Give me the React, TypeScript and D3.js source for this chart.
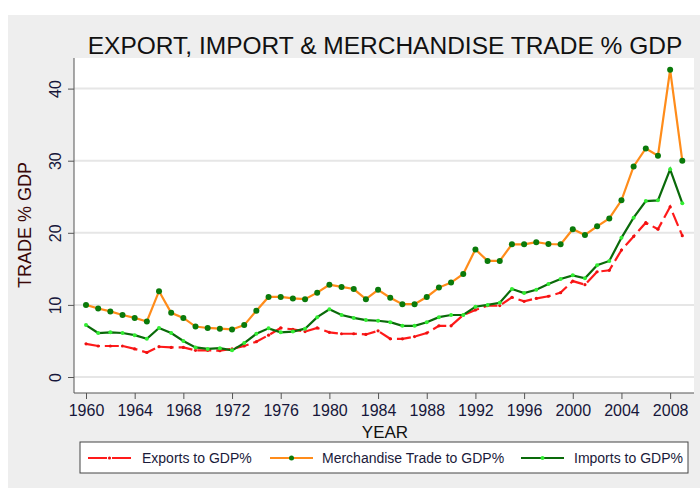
import { useRef, useEffect } from 'react';
import * as d3 from 'd3';

// years 1960 - 2009
const years: number[] = d3.range(1960, 2010);

const exportsGdp: number[] = [
    4.6, 4.3, 4.3, 4.3, 3.9, 3.4, 4.2, 4.1, 4.1, 3.7,
    3.7, 3.65, 3.9, 4.3, 4.9, 5.8, 6.8, 6.6, 6.3, 6.8,
    6.2, 6.0, 6.0, 5.9, 6.4, 5.3, 5.3, 5.6, 6.1, 7.1,
    7.1, 8.6, 9.3, 9.9, 9.9, 11.05, 10.5, 10.9, 11.2, 11.7,
    13.3, 12.8, 14.6, 14.8, 17.6, 19.5, 21.4, 20.5, 23.6, 19.6,
];

const merchGdp: number[] = [
    10.0, 9.5, 9.1, 8.6, 8.2, 7.7, 11.9, 8.9, 8.2, 7.0,
    6.8, 6.7, 6.6, 7.2, 9.2, 11.1, 11.1, 10.9, 10.8, 11.7,
    12.8, 12.5, 12.2, 10.8, 12.1, 11.0, 10.1, 10.1, 11.1, 12.4,
    13.1, 14.3, 17.7, 16.1, 16.1, 18.4, 18.4, 18.7, 18.45, 18.4,
    20.5, 19.7, 20.9, 22.0, 24.5, 29.2, 31.7, 30.7, 42.6, 30.0,
];

const importsGdp: number[] = [
    7.2, 6.1, 6.2, 6.1, 5.8, 5.3, 6.8, 6.1, 5.0, 4.1,
    3.9, 4.0, 3.7, 4.7, 6.0, 6.75, 6.2, 6.3, 6.7, 8.3,
    9.4, 8.6, 8.2, 7.9, 7.8, 7.6, 7.1, 7.1, 7.6, 8.3,
    8.6, 8.6, 9.75, 10.0, 10.3, 12.2, 11.65, 12.1, 12.9, 13.6,
    14.1, 13.7, 15.5, 16.1, 19.3, 22.1, 24.4, 24.5, 28.8, 24.1,
];

const xTicks: number[] = d3.range(1960, 2009, 4);
const yTicks: number[] = [0, 10, 20, 30, 40];

const legendLabels: string[] = ['Exports to GDP%', 'Merchandise Trade to GDP%', 'Imports to GDP%'];

const App = () => {
    const ref = useRef<SVGSVGElement>(null);

    useEffect(() => {
        const width = 700;
        const height = 488;
        const plot = { left: 74, right: 694, top: 58, bottom: 393 };
        const font = '"Liberation Sans", Arial, sans-serif';
        const tickColor = '#16163a';

        const svg = d3.select(ref.current);
        svg.selectAll('*').remove();
        svg.attr('width', width).attr('height', height).attr('viewBox', `0 0 ${width} ${height}`);

        const x = d3.scaleLinear().domain([1960, 2009]).range([86, 682.3]);
        const y = d3.scaleLinear().domain([0, 40]).range([377, 88.6]);

        // backgrounds
        svg.append('rect').attr('width', width).attr('height', height).attr('fill', '#ffffff');
        svg.append('rect').attr('x', 8).attr('y', 15).attr('width', width - 8).attr('height', height - 15).attr('fill', '#eeeeee');
        svg.append('rect')
            .attr('x', plot.left).attr('y', plot.top)
            .attr('width', plot.right - plot.left).attr('height', plot.bottom - plot.top)
            .attr('fill', '#ffffff');

        // grid
        svg.append('g').selectAll('line').data(yTicks).enter().append('line')
            .attr('x1', plot.left).attr('x2', plot.right)
            .attr('y1', (d: number) => y(d)).attr('y2', (d: number) => y(d))
            .attr('stroke', '#e6e6e6').attr('stroke-width', 2);

        // x axis
        const xAxis = svg.append('g')
            .attr('transform', `translate(0, ${plot.bottom})`)
            .call(d3.axisBottom(x).tickValues(xTicks).tickFormat(d3.format('d')).tickSize(6).tickSizeOuter(0).tickPadding(6) as any);
        xAxis.select('.domain').attr('d', `M${plot.left},0H${plot.right}`).attr('stroke', '#555');
        xAxis.selectAll('.tick line').attr('stroke', '#555');
        xAxis.selectAll('text').attr('font-family', font).attr('font-size', 16).attr('fill', tickColor);

        // y axis
        const yAxis = svg.append('g')
            .attr('transform', `translate(${plot.left}, 0)`)
            .call(d3.axisLeft(y).tickValues(yTicks).tickSize(6).tickSizeOuter(0).tickPadding(6) as any);
        yAxis.select('.domain').attr('d', `M0,${plot.top}V${plot.bottom}`).attr('stroke', '#555');
        yAxis.selectAll('.tick line').attr('stroke', '#555');
        yAxis.selectAll('text')
            .attr('font-family', font).attr('font-size', 16).attr('fill', tickColor)
            .attr('x', null).attr('dy', null)
            .attr('text-anchor', 'middle')
            .attr('transform', 'translate(-13, 0) rotate(-90)');

        // titles
        svg.append('text')
            .attr('x', 385).attr('y', 54)
            .attr('text-anchor', 'middle')
            .attr('font-family', font).attr('font-size', 24.5)
            .attr('fill', '#111')
            .text('EXPORT, IMPORT & MERCHANDISE TRADE % GDP');
        svg.append('text')
            .attr('x', 385).attr('y', 438)
            .attr('text-anchor', 'middle')
            .attr('font-family', font).attr('font-size', 17)
            .attr('fill', '#111')
            .text('YEAR');
        svg.append('text')
            .attr('transform', `translate(31, 225) rotate(-90)`)
            .attr('text-anchor', 'middle')
            .attr('font-family', font).attr('font-size', 18)
            .attr('fill', '#3a0808')
            .text('TRADE % GDP');

        const line = (vals: number[]) => d3.line<number>()
            .x((_d, i) => x(years[i]))
            .y((d) => y(d))(vals);

        // exports (red dashed)
        svg.append('path')
            .attr('d', line(exportsGdp))
            .attr('fill', 'none').attr('stroke', '#ff1a1a').attr('stroke-width', 2.2)
            .attr('stroke-dasharray', '14,5');
        svg.append('g').selectAll('circle').data(exportsGdp).enter().append('circle')
            .attr('cx', (_d: number, i: number) => x(years[i])).attr('cy', (d: number) => y(d))
            .attr('r', 1.6).attr('fill', '#ee1111');

        // imports (dark green)
        svg.append('path')
            .attr('d', line(importsGdp))
            .attr('fill', 'none').attr('stroke', '#0a6a0a').attr('stroke-width', 2.2);
        svg.append('g').selectAll('circle').data(importsGdp).enter().append('circle')
            .attr('cx', (_d: number, i: number) => x(years[i])).attr('cy', (d: number) => y(d))
            .attr('r', 2).attr('fill', '#33ee33');

        // merchandise (orange)
        svg.append('path')
            .attr('d', line(merchGdp))
            .attr('fill', 'none').attr('stroke', '#ff8c1a').attr('stroke-width', 2.2);
        svg.append('g').selectAll('circle').data(merchGdp).enter().append('circle')
            .attr('cx', (_d: number, i: number) => x(years[i])).attr('cy', (d: number) => y(d))
            .attr('r', 3).attr('fill', '#0a7a0a');

        // legend
        const legend = svg.append('g');
        legend.append('rect')
            .attr('x', 80).attr('y', 442).attr('width', 608).attr('height', 31)
            .attr('fill', '#fff').attr('stroke', '#444').attr('stroke-width', 1);
        const ly = 458;
        const items = [
            { x0: 88, tx: 142, stroke: '#ff1a1a', dash: '19,5', dot: '#ee1111', r: 1.6 },
            { x0: 270, tx: 322, stroke: '#ff8c1a', dash: null, dot: '#0a7a0a', r: 2.5 },
            { x0: 521, tx: 574, stroke: '#0a6a0a', dash: null, dot: '#33ee33', r: 2 },
        ];
        items.forEach((it, i) => {
            legend.append('line')
                .attr('x1', it.x0).attr('x2', it.x0 + 43).attr('y1', ly).attr('y2', ly)
                .attr('stroke', it.stroke).attr('stroke-width', 2.2)
                .attr('stroke-dasharray', it.dash);
            legend.append('circle').attr('cx', it.x0 + 21.5).attr('cy', ly).attr('r', it.r).attr('fill', it.dot);
            legend.append('text')
                .attr('x', it.tx).attr('y', ly + 5)
                .attr('font-family', font).attr('font-size', 14).attr('fill', '#1a1a3a')
                .text(legendLabels[i]);
        });
    }, []);

    return (
        <div style={{ position: 'absolute', left: 0, top: 0 }}>
            <svg ref={ref}></svg>
        </div>
    );
};

export default App;
